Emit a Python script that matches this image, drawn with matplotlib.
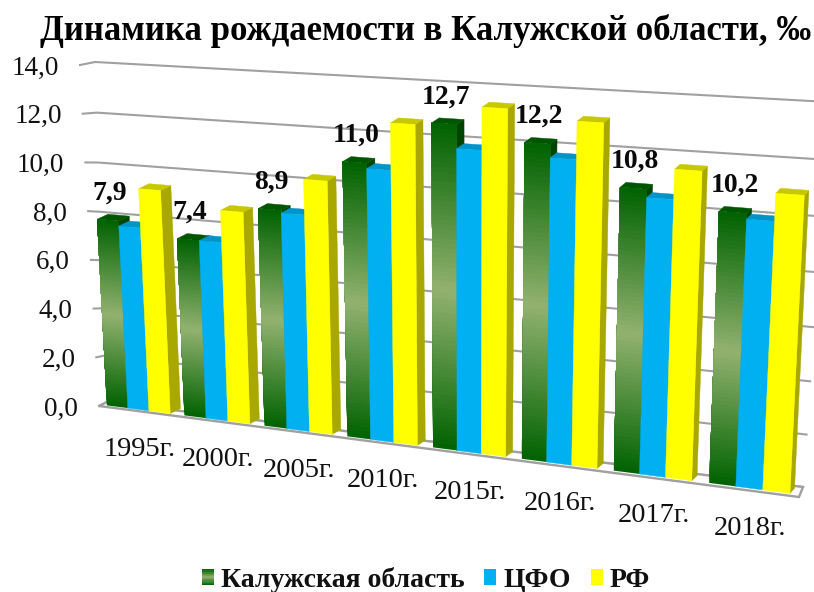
import numpy as np
import matplotlib
matplotlib.use("Agg")
import matplotlib.pyplot as plt
from matplotlib.legend_handler import HandlerBase
from matplotlib.patches import Polygon, Rectangle

# ---- data ----
title = "Динамика рождаемости в Калужской области, ‰"
categories = ["1995г.", "2000г.", "2005г.", "2010г.", "2015г.", "2016г.", "2017г.", "2018г."]
kaluga = [7.9, 7.4, 8.9, 11.0, 12.7, 12.2, 10.8, 10.2]
cfo = [7.7, 7.4, 8.8, 10.8, 11.8, 11.7, 10.5, 10.0]
rf = [9.3, 8.7, 10.2, 12.6, 13.4, 13.1, 11.6, 11.0]
y_ticks = [0, 2, 4, 6, 8, 10, 12, 14]
series_names = ["Калужская область", "ЦФО", "РФ"]

# ---- styles ----
plt.rcParams["font.family"] = ["Liberation Serif", "DejaVu Serif"]
BLUE = ("#00B0F0", "#0094C8", "#0086B5")
YELLOW = ("#FFFF00", "#C8C800", "#A8A800")
GREEN_DARK = np.array([0, 98, 0]) / 255
GREEN_LIGHT = np.array([146, 178, 112]) / 255
GREEN_TOP = "#005500"
GREEN_SIDE = "#004400"
GRID = "#A0A0A0"


def homography(src, dst):
    """3x3 projective matrix taking four src points to four dst points."""
    A, b = [], []
    for (x, y), (X, Y) in zip(src, dst):
        A.append([x, y, 1, 0, 0, 0, -x * X, -y * X])
        A.append([0, 0, 0, x, y, 1, -x * Y, -y * Y])
        b += [X, Y]
    h = np.linalg.solve(np.array(A, float), np.array(b, float))
    return np.append(h, 1).reshape(3, 3)


def apply(H, u, v):
    p = H @ np.array([u, v, 1.0])
    return p[:2] / p[2]


UMAX, VMAX = len(categories), y_ticks[-1]
corners = [(0, 0), (0, VMAX), (UMAX, VMAX), (UMAX, 0)]
H_front = homography(corners, [(100, 404.5), (82, 68), (818, 110), (799, 494.5)])
H_wall = homography(corners, [(107, 402), (95, 62), (829, 102), (803, 487)])


def front(u, v):
    return apply(H_front, u, v)


def back(u, v):
    return front(u, v) + np.array([11 - 6.5 * u / UMAX, -5])


fig = plt.figure(figsize=(8.14, 5.92), dpi=100)
ax = fig.add_axes([0, 0, 1, 1])
ax.set_xlim(0, 814)
ax.set_ylim(592, 0)
ax.axis("off")

# wall gridlines and left stubs
stub_top, stub_bottom = np.array([80, 65]), np.array([99, 406])
for t in y_ticks:
    a, b = apply(H_wall, 0, t), apply(H_wall, UMAX, t)
    s = stub_bottom + (stub_top - stub_bottom) * t / VMAX
    ax.plot([s[0], a[0], b[0]], [s[1], a[1], b[1]], color=GRID, lw=1.5, zorder=1)
    ax.text(s[0] - 21, s[1] + 3, f"{t:.1f}".replace(".", ","), ha="right", va="center",
            fontsize=19.5, color="#111111", zorder=5)

# floor
ax.add_patch(Polygon([stub_bottom, (799, 497), apply(H_wall, UMAX, 0), apply(H_wall, 0, 0)],
                     closed=True, fc="white", ec=GRID, lw=1.7, zorder=1.5))


def gradient_colour(t):
    return GREEN_DARK + (GREEN_LIGHT - GREEN_DARK) * (1 - abs(2 * t - 1))


def draw_bar(u0, u1, val, colours, z):
    front_c, top_c, side_c = colours
    ax.add_patch(Polygon([front(u1, 0), back(u1, 0), back(u1, val), front(u1, val)],
                         closed=True, fc=side_c, ec=side_c, lw=0.3, zorder=z))
    ax.add_patch(Polygon([front(u0, val), front(u1, val), back(u1, val), back(u0, val)],
                         closed=True, fc=top_c, ec=top_c, lw=0.3, zorder=z))
    if front_c is None:
        n = 70
        # nested slices, each reaching the top of the bar, so that no seams show
        for i in range(n):
            a = val * i / n
            c = gradient_colour((i + 0.5) / n)
            ax.add_patch(Polygon([front(u0, a), front(u1, a), front(u1, val), front(u0, val)],
                                 closed=True, fc=c, ec="none", zorder=z))
    else:
        ax.add_patch(Polygon([front(u0, 0), front(u1, 0), front(u1, val), front(u0, val)],
                             closed=True, fc=front_c, ec=front_c, lw=0.3, zorder=z))


PAD, WIDTH = 0.09, 0.82 / 3
series = [(kaluga, (None, GREEN_TOP, GREEN_SIDE)), (cfo, BLUE), (rf, YELLOW)]
z = 2.0
for g in range(len(categories)):
    for k, (vals, cols) in enumerate(series):
        u0 = g + PAD + k * WIDTH
        draw_bar(u0, u0 + WIDTH, vals[g], cols, z)
        z += 0.01

for g, cat in enumerate(categories):
    p = front(g + 0.5, 0)
    ax.text(p[0] + 1, p[1] + 40, cat, ha="center", va="center", fontsize=20.5,
            color="#111111", zorder=5)
    q = front(g + PAD + WIDTH / 2, kaluga[g])
    ax.text(q[0] + 2, q[1] - 27, f"{kaluga[g]:.1f}".replace(".", ","), ha="center", va="center",
            fontsize=20, fontweight="bold", color="#0A0A0A", zorder=6)

ax.text(426, 31, title, ha="center", va="center", fontsize=25, fontweight="bold", color="black")


class GradientHandler(HandlerBase):
    def create_artists(self, legend, orig, xd, yd, w, h, fontsize, trans):
        n = 14
        return [Rectangle((-xd, -yd + h * i / n), w, h * (n - i) / n,
                          fc=gradient_colour((i + 0.5) / n), ec="none", transform=trans)
                for i in range(n)]


handles = [Rectangle((0, 0), 1, 1, label=series_names[0]),
           Rectangle((0, 0), 1, 1, fc=BLUE[0], label=series_names[1]),
           Rectangle((0, 0), 1, 1, fc=YELLOW[0], label=series_names[2])]
ax.legend(handles=handles, handler_map={handles[0]: GradientHandler()}, ncol=3,
          loc="center", bbox_to_anchor=(426, 580), bbox_transform=ax.transData, frameon=False,
          prop={"size": 20, "weight": "bold"}, handlelength=0.44, handleheight=0.48,
          handletextpad=0.26, columnspacing=0.7, borderpad=0, labelcolor="#111111")

fig.savefig("out.png", dpi=100)
